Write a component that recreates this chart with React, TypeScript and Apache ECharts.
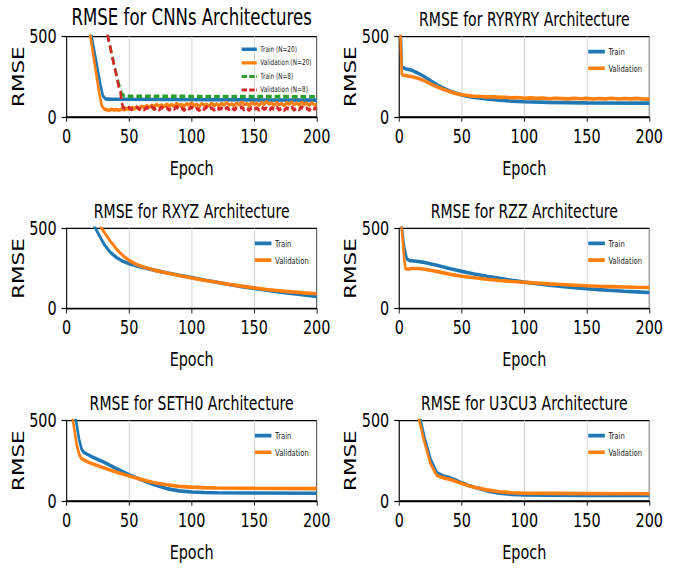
import React, { useEffect, useRef } from "react";
import * as echarts from "echarts";

// ---------- data ----------
const panelTitles = [
  "RMSE for CNNs Architectures",
  "RMSE for RYRYRY Architecture",
  "RMSE for RXYZ Architecture",
  "RMSE for RZZ Architecture",
  "RMSE for SETH0 Architecture",
  "RMSE for U3CU3 Architecture",
];
const epochRange = [0, 200];
const epochStep = 50;
const rmseRange = [0, 500];
const rmseStep = 500;

type P = [number, number][];

// CNNs
const cnnTrainN20: P = [[0,1400],[10,950],[15,720],[20,500],[24,330],[27,200],[29,130],[31,112],[35,110],[50,109],[80,108],[120,106],[160,105],[200,104]];
const cnnValN20: P = [[0,1350],[10,900],[15,690],[19,500],[23,300],[26,150],[28,70],[30,48],
  [32,44],[34,40],[36,47],[38,42],[40,46],[42,41],[44,48],[46,44],[48,52],[50,47],[52,58],[54,50],[56,61],[58,54],[60,66],[62,58],[64,70],[66,60],[68,72],[70,63],[72,78],[74,66],[76,74],[78,62],[80,80],[82,68],[84,76],[86,65],[88,84],[90,70],[92,77],[94,66],[96,82],[98,71],[100,88],[102,69],[104,79],[106,64],[108,83],[110,72],[112,78],[114,66],[116,85],[118,70],[120,80],[122,68],[124,84],[126,73],[128,90],[130,74],[132,80],[134,69],[136,86],[138,75],[140,92],[142,76],[144,82],[146,71],[148,88],[150,78],[152,84],[154,72],[156,90],[158,77],[160,94],[162,79],[164,85],[166,73],[168,89],[170,76],[172,83],[174,70],[176,88],[178,78],[180,92],[182,75],[184,86],[186,74],[188,90],[190,79],[192,84],[194,72],[196,88],[198,76],[200,74]];
const cnnTrainN8: P = [[0,1500],[20,1000],[30,640],[33,500],[36,395],[39,290],[42,195],[44,145],[46,130],[50,128],[100,127],[150,126],[200,125]];
const cnnValN8: P = [[0,1500],[20,1000],[30,640],[33,500],[36,390],[39,285],[42,175],[43,155],[44,90],[45,60],
  [46,55],[48,48],[50,58],[52,45],[54,52],[56,60],[58,47],[60,55],[62,44],[64,58],[66,50],[68,62],[70,46],[72,56],[74,43],[76,60],[78,50],[80,57],[82,42],[84,55],[86,48],[88,63],[90,45],[92,54],[94,41],[96,58],[98,49],[100,61],[102,44],[104,53],[106,40],[108,57],[110,47],[112,62],[114,45],[116,55],[118,42],[120,59],[122,48],[124,53],[126,40],[128,57],[130,46],[132,60],[134,43],[136,54],[138,49],[140,62],[142,44],[144,56],[146,41],[148,58],[150,47],[152,55],[154,42],[156,60],[158,48],[160,53],[162,39],[164,57],[166,46],[168,61],[170,43],[172,52],[174,40],[176,56],[178,47],[180,60],[182,42],[184,55],[186,45],[188,62],[190,48],[192,53],[194,41],[196,58],[198,50],[200,55]];

// RYRYRY
const ryTrain: P = [[0,1000],[1,600],[2,310],[5,300],[10,290],[15,272],[20,250],[25,225],[30,200],[35,180],[40,162],[45,148],[50,136],[55,127],[60,120],[70,111],[80,104],[90,98],[100,94],[120,90],[150,87],[200,85]];
const ryVal: P = [[0,900],[1,500],[2,262],[5,258],[10,250],[15,240],[20,225],[25,205],[30,187],[35,172],[40,158],[45,146],[50,138],
  [55,132],[60,128],[65,127],[70,124],[75,125],[80,121],[85,122],[90,118],[95,120],[100,116],[105,118],[110,115],[115,117],[120,113],[125,116],[130,114],[135,112],[140,116],[145,113],[150,115],[155,111],[160,114],[165,112],[170,116],[175,111],[180,114],[185,112],[190,115],[195,111],[200,110]];

// RXYZ
const rxyzTrain: P = [[0,1100],[10,800],[20,560],[23,500],[30,400],[35,350],[40,318],[45,295],[50,280],[55,268],[60,258],[70,240],[80,224],[90,208],[100,193],[110,178],[120,164],[130,150],[140,137],[150,126],[160,114],[170,104],[180,94],[190,85],[200,76]];
const rxyzVal: P = [[0,1200],[10,900],[20,650],[28,500],[35,420],[40,370],[45,330],[50,300],[55,278],[60,262],[70,240],[80,222],[90,206],[100,191],[110,177],[120,164],[130,151],[140,140],[150,129],[160,119],[170,111],[180,104],[190,98],[200,93]];

// RZZ
const rzzTrain: P = [[0,900],[2,500],[4,380],[6,310],[8,300],[10,298],[15,294],[20,288],[30,270],[40,250],[50,232],[60,216],[70,202],[80,189],[90,176],[100,165],[110,155],[120,146],[130,138],[140,131],[150,124],[160,118],[170,113],[180,108],[190,104],[200,100]];
const rzzVal: P = [[0,800],[2,500],[4,300],[5,248],[7,245],[10,250],[15,250],[20,245],[30,232],[40,215],[50,202],[60,192],[70,183],[80,175],[90,169],[100,164],[110,159],[120,154],[130,150],[140,146],[150,142],[160,139],[170,137],[180,135],[190,133],[200,132]];

// SETH0
const sethTrain: P = [[0,1000],[5,650],[7.5,500],[10,380],[12,320],[14,300],[20,275],[30,240],[40,200],[50,162],[60,130],[70,100],[80,76],[90,62],[100,55],[110,52],[120,50],[150,49],[200,47]];
const sethVal: P = [[0,900],[5,500],[8,350],[10,290],[12,262],[15,250],[20,232],[30,205],[40,178],[50,155],[60,132],[70,113],[80,100],[90,90],[100,85],[110,82],[120,80],[150,78],[200,76]];

// U3CU3
const u3Train: P = [[0,1500],[10,900],[15,600],[17,500],[20,400],[25,260],[30,175],[35,155],[40,145],[45,130],[50,112],[55,97],[60,84],[70,62],[80,48],[90,40],[100,37],[120,35],[150,34],[200,33]];
const u3Val: P = [[0,1400],[10,800],[14,560],[16,500],[20,370],[25,230],[30,158],[35,143],[40,135],[45,122],[50,108],[55,96],[60,85],[70,68],[80,56],[90,50],[100,47],[120,46],[150,45],[200,44]];

// ---------- styling / layout ----------
const BLUE = "#1f77b4";
const ORANGE = "#ff7f0e";
const GREEN = "#2ca02c";
const RED = "#d62728";
const FONT = "DejaVu Sans";

const SX = 0.72; // horizontal squeeze of the reference image
const W = 950;
const H = 568;
const GW = 347.2;
const GH = 80.2;
const colLeft = [92.6, 554.6];
const rowTop = [36.6, 228.4, 420.6];

// legend icons (tiny corner dots fix the bounding box so the bar keeps its thickness)
const ICON_SOLID_SMALL = "path://M0,0h0.01v0.01h-0.01z M0,3.3h21v3.4h-21z M20.99,9.99h0.01v0.01h-0.01z";
const ICON_DASH_SMALL = "path://M0,0h0.01v0.01h-0.01z M0,3.5h7.5v3h-7.5z M10.5,3.5h7.5v3h-7.5z M20,3.5h1v3h-1z M20.99,9.99h0.01v0.01h-0.01z";
const ICON_SOLID = "path://M0,0h0.01v0.01h-0.01z M0,4.2h23v3.6h-23z M22.99,11.99h0.01v0.01h-0.01z";

type S = { name: string; data: P; color: string; dashed?: boolean };
const panels: S[][] = [
  [
    { name: "Train (N=20)", data: cnnTrainN20, color: BLUE },
    { name: "Validation (N=20)", data: cnnValN20, color: ORANGE },
    { name: "Train (N=8)", data: cnnTrainN8, color: GREEN, dashed: true },
    { name: "Validation (N=8)", data: cnnValN8, color: RED, dashed: true },
  ],
  [
    { name: "Train", data: ryTrain, color: BLUE },
    { name: "Validation", data: ryVal, color: ORANGE },
  ],
  [
    { name: "Train", data: rxyzTrain, color: BLUE },
    { name: "Validation", data: rxyzVal, color: ORANGE },
  ],
  [
    { name: "Train", data: rzzTrain, color: BLUE },
    { name: "Validation", data: rzzVal, color: ORANGE },
  ],
  [
    { name: "Train", data: sethTrain, color: BLUE },
    { name: "Validation", data: sethVal, color: ORANGE },
  ],
  [
    { name: "Train", data: u3Train, color: BLUE },
    { name: "Validation", data: u3Val, color: ORANGE },
  ],
];

function buildOption() {
  const grid: any[] = [];
  const xAxis: any[] = [];
  const yAxis: any[] = [];
  const title: any[] = [];
  const legend: any[] = [];
  const series: any[] = [];
  panels.forEach((ser, i) => {
    const col = i % 2;
    const row = Math.floor(i / 2);
    const left = colLeft[col];
    const top = rowTop[row];
    grid.push({ left, top, width: GW, height: GH, show: true, borderColor: "#000", borderWidth: 1.3, containLabel: false });
    xAxis.push({
      gridIndex: i, type: "value", min: epochRange[0], max: epochRange[1], interval: epochStep,
      axisLine: { show: true, onZero: false, lineStyle: { color: "#000", width: 1.3 } },
      axisTick: { show: true, length: 5, lineStyle: { color: "#000", width: 1.2 } },
      axisLabel: { fontSize: 20, color: "#000", margin: 9, fontFamily: FONT },
      splitLine: { show: true, lineStyle: { color: "#d6d6d6", width: 1.4 } },
      name: "Epoch", nameLocation: "middle", nameGap: 41,
      nameTextStyle: { fontSize: 20, color: "#000", fontFamily: FONT },
    });
    yAxis.push({
      gridIndex: i, type: "value", min: rmseRange[0], max: rmseRange[1], interval: rmseStep,
      axisLine: { show: true, onZero: false, lineStyle: { color: "#000", width: 1.3 } },
      axisTick: { show: true, length: 7, lineStyle: { color: "#000", width: 1.2 } },
      axisLabel: { fontSize: 20, color: "#000", margin: 14, fontFamily: FONT },
      splitLine: { show: false },
      name: "RMSE", nameLocation: "middle", nameGap: 55, nameRotate: 90,
      nameTextStyle: { fontSize: 21.5, color: "#000", fontFamily: FONT },
    });
    const big = i === 0;
    title.push({
      text: panelTitles[i], left: left + GW / 2, textAlign: "center",
      top: big ? 5.5 : top - 27.6, padding: 0,
      textStyle: { fontSize: big ? 23 : 19.5, fontWeight: "normal", color: "#000", fontFamily: FONT },
    });
    if (big) {
      legend.push({
        orient: "vertical", left: 335.6, top: 44.3, padding: 0, itemWidth: 21, itemHeight: 10, itemGap: 3.6,
        selectedMode: false, itemStyle: { borderWidth: 0 },
        data: ser.map((s) => ({ name: s.name, icon: s.dashed ? ICON_DASH_SMALL : ICON_SOLID_SMALL })),
        textStyle: { fontSize: 8, color: "#222", fontFamily: FONT, lineHeight: 10 },
      });
    } else {
      legend.push({
        orient: "vertical", left: col === 0 ? 354 : 817, top: top + 9, padding: 0, itemWidth: 23, itemHeight: 12, itemGap: 4.7,
        selectedMode: false, itemStyle: { borderWidth: 0 },
        data: ser.map((s) => ({ name: s.name, icon: ICON_SOLID })),
        textStyle: { fontSize: 9.5, color: "#222", fontFamily: FONT, lineHeight: 12 },
      });
    }
    ser.forEach((s) => {
      series.push({
        type: "line", name: s.name, data: s.data, xAxisIndex: i, yAxisIndex: i,
        symbol: "none", showSymbol: false, clip: true, silent: true,
        color: s.color, itemStyle: { color: s.color },
        lineStyle: { color: s.color, width: 3.6, type: s.dashed ? [8, 4] : "solid" },
      });
    });
  });
  return { animation: false, backgroundColor: "#fff", textStyle: { fontFamily: FONT }, grid, xAxis, yAxis, title, legend, series };
}

export default function App() {
  const ref = useRef<HTMLDivElement>(null);
  useEffect(() => {
    if (!ref.current) return;
    const chart = echarts.init(ref.current, undefined, { renderer: "svg" });
    chart.setOption(buildOption() as any);
    return () => chart.dispose();
  }, []);
  return (
    <div style={{ position: "fixed", left: 0, top: 0, width: 684, height: 568, overflow: "hidden", background: "#fff" }}>
      <div ref={ref} style={{ width: W, height: H, transform: `scaleX(${SX})`, transformOrigin: "0 0" }} />
    </div>
  );
}
